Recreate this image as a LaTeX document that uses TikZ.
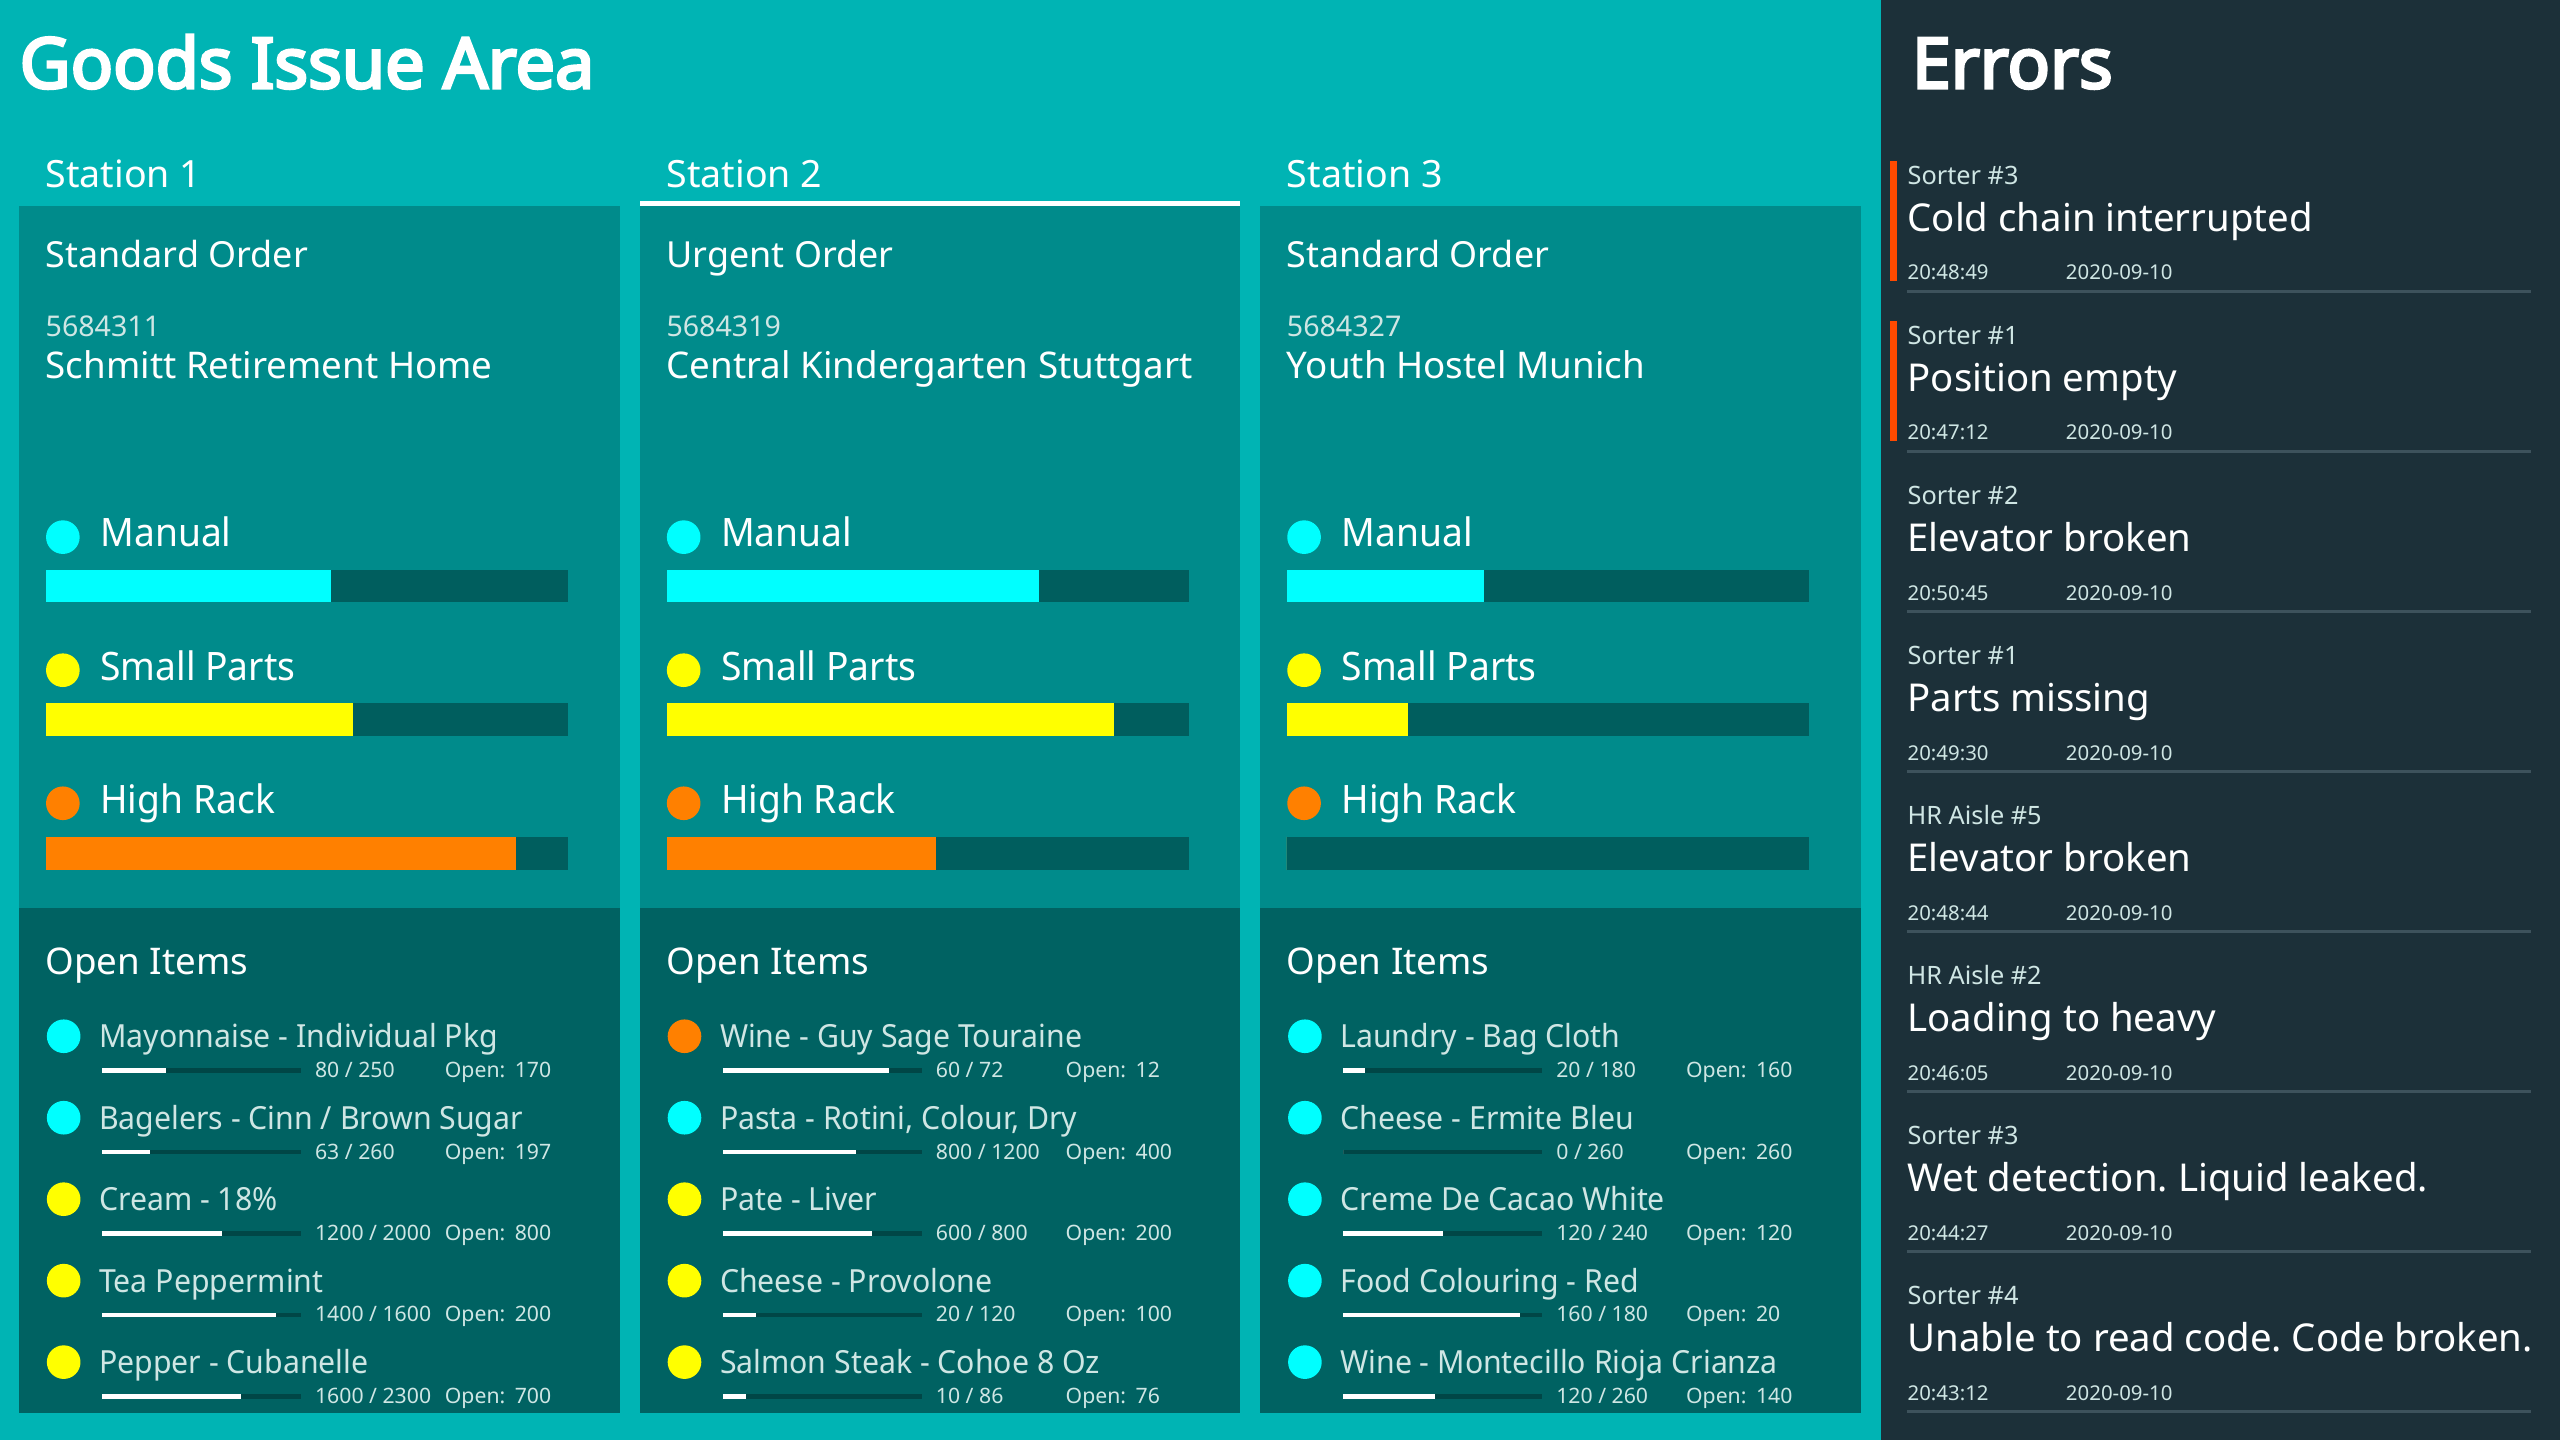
\documentclass[tikz,border=0pt]{standalone}
\usepackage{fontspec}
\setmainfont{Noto Sans}
\newfontfamily\titlefont{Noto Sans}[FakeBold=4]
\newfontfamily\narrowfont{Noto Sans}[FakeStretch=0.95]
\frenchspacing
\definecolor{bgteal}{HTML}{00B4B4}
\definecolor{upperc}{HTML}{008B8B}
\definecolor{lowerc}{HTML}{006262}
\definecolor{barbg}{HTML}{005E5E}
\definecolor{linebg}{HTML}{004646}
\definecolor{itemtxt}{HTML}{CFE6E4}
\definecolor{errbg}{HTML}{1C3039}
\definecolor{errsep}{HTML}{3D525C}
\definecolor{errred}{HTML}{FF4A00}
\definecolor{dotcyan}{HTML}{00FFFF}
\definecolor{dotyellow}{HTML}{FFFF00}
\definecolor{dotorange}{HTML}{FF8000}
\newcommand\fs[1]{\fontsize{#1}{#1}\selectfont}
\tikzset{
  txt/.style={anchor=base west, inner sep=0pt, outer sep=0pt, text=white},
  box/.style={anchor=north west, inner sep=0pt, outer sep=0pt, draw=none},
  dot/.style={circle, inner sep=0pt, minimum size=20.6pt},
}
% station panel: #1 id, #2 x offset, #3 station label, #4 order type, #5 number, #6 customer, #7 #8 #9 fractions
\newcommand\stationpanel[9]{%
\begin{scope}[xshift=#2]
  \node[box, fill=upperc, minimum width=367.75pt, minimum height=430pt] (#1up) at (11.75,126) {};
  \node[box, fill=lowerc, minimum width=367.75pt, minimum height=309.5pt] (#1low) at (11.75,556) {};
  \node[txt, font=\fs{23}] (#1label) at (28,115) {#3};
  \node[txt, font=\fs{22}] (#1type) at (28,163.7) {#4};
  \node[txt, font=\fs{17.5}, text=itemtxt] (#1num) at (28,206) {#5};
  \node[txt, font=\fs{22.5}] (#1cust) at (28,232) {#6};
  \node[dot, fill=dotcyan] (#1dm) at (38.5,329) {};
  \node[txt, font=\narrowfont\fs{24}] (#1lm) at (61.5,335) {Manual};
  \fill[barbg] (28,349) rectangle (348,369);
  \fill[dotcyan] (28,349) rectangle ({28+320*#7},369);
  \node[dot, fill=dotyellow] (#1ds) at (38.5,410.5) {};
  \node[txt, font=\narrowfont\fs{24}] (#1ls) at (61.5,416.5) {Small Parts};
  \fill[barbg] (28,430.6) rectangle (348,451);
  \fill[dotyellow] (28,430.6) rectangle ({28+320*#8},451);
  \node[dot, fill=dotorange] (#1dh) at (38.5,492) {};
  \node[txt, font=\narrowfont\fs{24}] (#1lh) at (61.5,498) {High Rack};
  \fill[barbg] (28,512.5) rectangle (348,533);
  \fill[dotorange] (28,512.5) rectangle ({28+320*#9},533);
  \node[txt, font=\fs{22.5}] (#1open) at (28,596.6) {Open Items};
\end{scope}}
% open item: #1 id, #2 x offset, #3 row, #4 colour, #5 name, #6 value, #7 total, #8 open
\newcommand\openitem[8]{%
\begin{scope}[xshift=#2, yshift={-(634.7+49.9*#3)*1pt}]
  \pgfmathsetmacro\itemfrac{#6/#7}
  \node[dot, fill=#4] (#1d) at (39,0) {};
  \node[txt, font=\narrowfont\fs{19.5}, text=itemtxt] (#1n) at (60.75,7) {#5};
  \fill[linebg] (62.5,19.7) rectangle (184.5,22.3);
  \fill[white] (62.5,19.7) rectangle ({62.5+122*\itemfrac},22.3);
  \node[txt, font=\fs{13}, text=itemtxt] (#1v) at (193,25.3) {#6 / #7};
  \node[txt, font=\fs{13}, text=itemtxt] (#1o) at (272.5,25.3) {Open:\hspace{0.45em}#8};
\end{scope}}
% error item: #1 row, #2 source, #3 message, #4 time, #5 red flag (1/0)
\newcommand\erroritem[5]{%
\begin{scope}[yshift={-98*#1*1pt}]
  \ifnum#5=1 \fill[errred] (1157.5,98.6) rectangle (1161.6,172);\fi
  \node[txt, font=\fs{15.5}, text=itemtxt] (e#1src) at (1168.4,112.8) {#2};
  \node[txt, font=\fs{23.5}] (e#1msg) at (1168.4,141.9) {#3};
  \node[txt, font=\fs{12.5}, text=itemtxt] (e#1time) at (1168.4,171.5) {#4};
  \node[txt, font=\fs{12.5}, text=itemtxt] (e#1date) at (1265.4,171.5) {2020-09-10};
  \fill[errsep] (1168,177.9) rectangle (1550.5,179.3);
\end{scope}}
\begin{document}
\begin{tikzpicture}[x=1pt, y=-1pt]
\useasboundingbox (0,0) rectangle (1568,882);
\fill[bgteal] (0,0) rectangle (1152,882);
\fill[errbg] (1152,0) rectangle (1568,882);
\node[txt, font=\titlefont\fs{43}] (title) at (12,54) {Goods Issue Area};
\node[txt, font=\titlefont\fs{43}] (errtitle) at (1171,54) {Errors};

\stationpanel{sa}{0}{Station 1}{Standard Order}{5684311}{Schmitt Retirement Home}{0.547}{0.5875}{0.9}
\stationpanel{sb}{380.25}{Station 2}{Urgent Order}{5684319}{Central Kindergarten Stuttgart}{0.7125}{0.856}{0.516}
\stationpanel{sc}{760.25}{Station 3}{Standard Order}{5684327}{Youth Hostel Munich}{0.378}{0.231}{0}
\fill[white] (392,123) rectangle (759.5,126);

\openitem{ia}{0}{0}{dotcyan}{Mayonnaise - Individual Pkg}{80}{250}{170}
\openitem{ib}{0}{1}{dotcyan}{Bagelers - Cinn / Brown Sugar}{63}{260}{197}
\openitem{ic}{0}{2}{dotyellow}{Cream - 18\%}{1200}{2000}{800}
\openitem{id}{0}{3}{dotyellow}{Tea Peppermint}{1400}{1600}{200}
\openitem{ie}{0}{4}{dotyellow}{Pepper - Cubanelle}{1600}{2300}{700}

\openitem{ja}{380.25}{0}{dotorange}{Wine - Guy Sage Touraine}{60}{72}{12}
\openitem{jb}{380.25}{1}{dotcyan}{Pasta - Rotini, Colour, Dry}{800}{1200}{400}
\openitem{jc}{380.25}{2}{dotyellow}{Pate - Liver}{600}{800}{200}
\openitem{jd}{380.25}{3}{dotyellow}{Cheese - Provolone}{20}{120}{100}
\openitem{je}{380.25}{4}{dotyellow}{Salmon Steak - Cohoe 8 Oz}{10}{86}{76}

\openitem{ka}{760.25}{0}{dotcyan}{Laundry - Bag Cloth}{20}{180}{160}
\openitem{kb}{760.25}{1}{dotcyan}{Cheese - Ermite Bleu}{0}{260}{260}
\openitem{kc}{760.25}{2}{dotcyan}{Creme De Cacao White}{120}{240}{120}
\openitem{kd}{760.25}{3}{dotcyan}{Food Colouring - Red}{160}{180}{20}
\openitem{ke}{760.25}{4}{dotcyan}{Wine - Montecillo Rioja Crianza}{120}{260}{140}

\erroritem{0}{Sorter \#3}{Cold chain interrupted}{20:48:49}{1}
\erroritem{1}{Sorter \#1}{Position empty}{20:47:12}{1}
\erroritem{2}{Sorter \#2}{Elevator broken}{20:50:45}{0}
\erroritem{3}{Sorter \#1}{Parts missing}{20:49:30}{0}
\erroritem{4}{HR Aisle \#5}{Elevator broken}{20:48:44}{0}
\erroritem{5}{HR Aisle \#2}{Loading to heavy}{20:46:05}{0}
\erroritem{6}{Sorter \#3}{Wet detection. Liquid leaked.}{20:44:27}{0}
\erroritem{7}{Sorter \#4}{Unable to read code. Code broken.}{20:43:12}{0}
\end{tikzpicture}
\end{document}
